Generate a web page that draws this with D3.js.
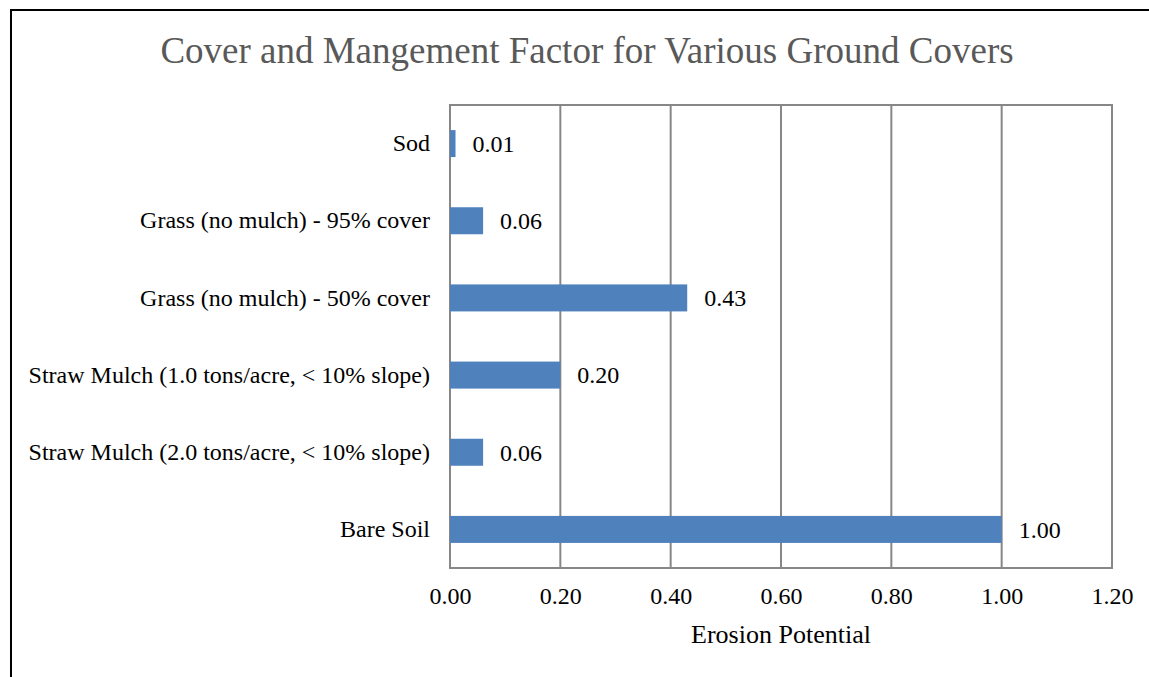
<!DOCTYPE html>
<html>
<head>
<meta charset="utf-8">
<script src="https://cdn.jsdelivr.net/npm/d3@7"></script>
<style>
  html, body { margin: 0; padding: 0; background: #fff; }
  svg { display: block; }
  text { font-family: "Liberation Serif", "Times New Roman", serif; }
</style>
</head>
<body>
<script>
// Cover and management factor (C) by ground cover
const categories = [
  "Sod",
  "Grass (no mulch) - 95% cover",
  "Grass (no mulch) - 50% cover",
  "Straw Mulch (1.0 tons/acre, < 10% slope)",
  "Straw Mulch (2.0 tons/acre, < 10% slope)",
  "Bare Soil"
];
const values = [0.01, 0.06, 0.43, 0.20, 0.06, 1.00];
const xTicks = [0, 0.2, 0.4, 0.6, 0.8, 1.0, 1.2];
const title = "Cover and Mangement Factor for Various Ground Covers";
const xTitle = "Erosion Potential";

const W = 1149, H = 677;
const plot = { left: 450, right: 1112, top: 105, bottom: 568 };

const svg = d3.select("body").append("svg").attr("width", W).attr("height", H);

// outer frame (top and left edges visible)
svg.append("rect")
  .attr("x", 11).attr("y", 10)
  .attr("width", W + 20).attr("height", H + 20)
  .attr("fill", "none").attr("stroke", "#000").attr("stroke-width", 2);

const x = d3.scaleLinear().domain([0, 1.2]).range([plot.left, plot.right]);
const y = d3.scaleBand().domain(categories).range([plot.top, plot.bottom]).paddingInner(0.65).paddingOuter(0.325);

// vertical gridlines
svg.append("g").selectAll("line").data(xTicks).join("line")
  .attr("x1", d => x(d)).attr("x2", d => x(d))
  .attr("y1", plot.top).attr("y2", plot.bottom)
  .attr("stroke", "#878787").attr("stroke-width", 2);

// plot frame
svg.append("rect")
  .attr("x", plot.left).attr("y", plot.top)
  .attr("width", plot.right - plot.left).attr("height", plot.bottom - plot.top)
  .attr("fill", "none").attr("stroke", "#878787").attr("stroke-width", 2);

// bars
svg.append("g").selectAll("rect").data(categories).join("rect")
  .attr("x", x(0))
  .attr("y", d => y(d))
  .attr("width", (d, i) => x(values[i]) - x(0))
  .attr("height", y.bandwidth())
  .attr("fill", "#4F81BD");

// value labels
svg.append("g").selectAll("text").data(categories).join("text")
  .attr("x", (d, i) => x(values[i]) + 17)
  .attr("y", d => y(d) + y.bandwidth() / 2)
  .attr("dy", "0.35em")
  .attr("font-size", 24)
  .attr("fill", "#000")
  .text((d, i) => d3.format(".2f")(values[i]));

// category axis labels
const yAxis = d3.axisLeft(y).tickSize(0).tickPadding(20);
const gy = svg.append("g").attr("transform", `translate(${plot.left},0)`).call(yAxis);
gy.select(".domain").remove();
gy.selectAll("text")
  .attr("font-size", 24)
  .attr("font-family", "Liberation Serif, Times New Roman, serif")
  .attr("fill", "#000");

// value axis labels
const xAxis = d3.axisBottom(x).tickValues(xTicks).tickFormat(d3.format(".2f")).tickSize(0).tickPadding(0);
const gx = svg.append("g").attr("transform", `translate(0,${plot.bottom})`).call(xAxis);
gx.select(".domain").remove();
gx.selectAll("text")
  .attr("y", 36).attr("dy", null)
  .attr("font-size", 24)
  .attr("font-family", "Liberation Serif, Times New Roman, serif")
  .attr("fill", "#000");

// axis title
svg.append("text")
  .attr("x", (plot.left + plot.right) / 2).attr("y", 643)
  .attr("text-anchor", "middle").attr("font-size", 26)
  .attr("fill", "#000")
  .text(xTitle);

// chart title
svg.append("text")
  .attr("x", 587).attr("y", 63)
  .attr("text-anchor", "middle").attr("font-size", 37)
  .attr("fill", "#595959")
  .text(title);
</script>
</body>
</html>
